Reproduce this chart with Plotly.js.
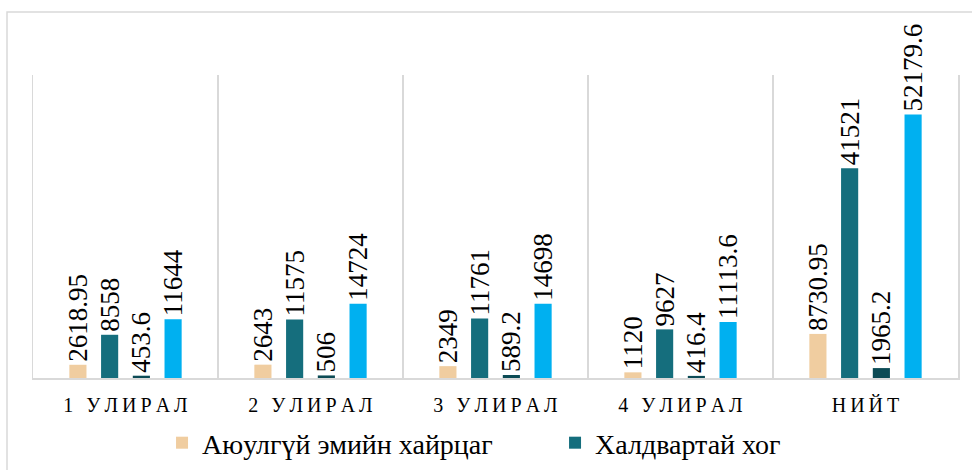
<!DOCTYPE html>
<html>
<head>
<meta charset="utf-8">
<script src="https://cdn.plot.ly/plotly-3.0.1.min.js"></script>
<style>
  html, body { margin: 0; padding: 0; background: #ffffff; }
  #chart { width: 972px; height: 470px; }
</style>
</head>
<body>
<div id="chart"></div>
<script>
// Categories (quarters + total)
const categories = ["1 УЛИРАЛ", "2 УЛИРАЛ", "3 УЛИРАЛ", "4 УЛИРАЛ", "НИЙТ"];

// Series names (only the first two are visible in the legend)
const seriesNames = ["Аюулгүй эмийн хайрцаг", "Халдвартай хог", "Бусад", "Нийт"];

// Series values
const safeBoxValues    = [2618.95, 2643, 2349, 1120, 8730.95];
const infectiousValues = [8558, 11575, 11761, 9627, 41521];
const thirdValues      = [453.6, 506, 589.2, 416.4, 1965.2];
const fourthValues     = [11644, 14724, 14698, 11113.6, 52179.6];

const colors = ["#F0CDA0", "#156E7D", "#0C4B55", "#00B0F0"];
const showInLegend = [true, true, false, false];
const FONT = "Liberation Serif";

// Letter-spaced tick labels (thin spaces between characters)
const tickText = categories.map(c => Array.from(c).join("\u2009"));

const allValues = [safeBoxValues, infectiousValues, thirdValues, fourthValues];

const traces = allValues.map((vals, i) => ({
  type: "bar",
  name: seriesNames[i],
  x: categories,
  y: vals,
  text: vals.map(v => String(v)),
  textposition: "outside",
  textangle: -90,
  constraintext: "none",
  cliponaxis: false,
  textfont: { family: FONT, size: 27, color: "#000000" },
  marker: { color: colors[i] },
  showlegend: showInLegend[i],
  hoverinfo: "x+y+name"
}));

const layout = {
  width: 972,
  height: 470,
  margin: { l: 33, r: 14, t: 75, b: 92, autoexpand: false },
  paper_bgcolor: "#ffffff",
  plot_bgcolor: "#ffffff",
  barmode: "group",
  bargap: 0.314,
  bargroupgap: 0.46,
  font: { family: FONT, color: "#000000" },
  xaxis: {
    type: "category",
    tickvals: categories,
    ticktext: tickText,
    tickson: "boundaries",
    ticks: "",
    ticklabelstandoff: 8,
    showgrid: true,
    gridcolor: "#D9D9D9",
    gridwidth: 1.5,
    showline: true,
    linecolor: "#D9D9D9",
    linewidth: 1.5,
    tickfont: { family: FONT, size: 20, color: "#000000" },
    fixedrange: true
  },
  yaxis: {
    range: [0, 60000],
    showticklabels: false,
    ticks: "",
    showgrid: false,
    zeroline: false,
    showline: true,
    mirror: true,
    linecolor: "#D9D9D9",
    linewidth: 1.5,
    fixedrange: true
  },
  legend: {
    orientation: "h",
    x: 0.1395,
    xanchor: "left",
    y: -0.2145,
    yanchor: "middle",
    entrywidth: 348,
    entrywidthmode: "pixels",
    font: { family: FONT, size: 28, color: "#000000" },
    bgcolor: "rgba(0,0,0,0)"
  },
  shapes: [{
    type: "rect",
    xref: "paper", yref: "paper",
    x0: -0.0281, x1: 1.06,
    y0: -0.5, y1: 1.2079,
    line: { color: "#D9D9D9", width: 1.5 },
    fillcolor: "rgba(0,0,0,0)",
    layer: "below"
  }]
};

Plotly.newPlot("chart", traces, layout, { displayModeBar: false, staticPlot: true });
</script>
</body>
</html>
